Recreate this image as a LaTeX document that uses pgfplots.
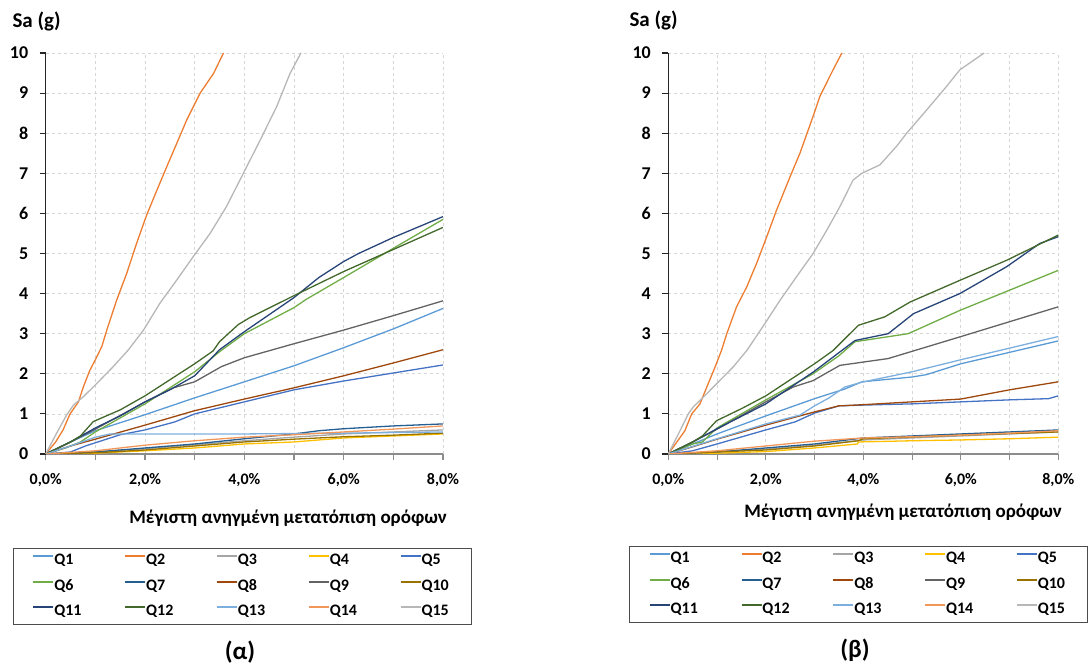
\documentclass[border=0pt]{standalone}
\usepackage{fontspec}
\setmainfont{Carlito}
\usepackage{pgfplots}
\pgfplotsset{compat=1.18}
\definecolor{qa}{HTML}{5B9BD5}
\definecolor{qb}{HTML}{ED7D31}
\definecolor{qc}{HTML}{A5A5A5}
\definecolor{qd}{HTML}{FFC000}
\definecolor{qe}{HTML}{4472C4}
\definecolor{qf}{HTML}{70AD47}
\definecolor{qg}{HTML}{255E91}
\definecolor{qh}{HTML}{9E480E}
\definecolor{qi}{HTML}{636363}
\definecolor{qj}{HTML}{997300}
\definecolor{qk}{HTML}{264478}
\definecolor{ql}{HTML}{43682B}
\definecolor{qm}{HTML}{7CAFDD}
\definecolor{qn}{HTML}{F1975A}
\definecolor{qo}{HTML}{B7B7B7}
\pgfplotsset{
  mystyle/.style={
    anchor=south west, scale only axis, height=401pt,
    xmin=0, xmax=8, ymin=0, ymax=10,
    xtick={0,...,8},
    xticklabels={{0,0\%},{},{2,0\%},{},{4,0\%},{},{6,0\%},{},{8,0\%}},
    ytick={0,...,10},
    /pgf/number format/assume math mode=true,
    grid=major, grid style={dashed, color=black!16, line width=0.7pt},
    axis x line*=bottom, axis y line*=left,
    x axis line style={black!45, line width=1.1pt},
    y axis line style={black!85, line width=1.1pt},
    x tick style={black!45, line width=1.1pt},
    y tick style={black!85, line width=1.1pt},
    tick align=outside, major tick length=6pt,
    xticklabel style={font=\bfseries\fontsize{16}{16}\selectfont, anchor=center, yshift=-20pt},
    yticklabel style={font=\bfseries\fontsize{18}{18}\selectfont, anchor=east, xshift=-8pt},
    xlabel={Μέγιστη ανηγμένη μετατόπιση ορόφων},
    xlabel style={font=\bfseries\fontsize{19}{19}\selectfont, anchor=center},
    every axis plot/.append style={line width=1.3pt, mark=none},
    legend columns=5,
    legend cell align=left,
    legend image code/.code={\draw[#1, line width=1.8pt] (0pt,4.5pt) -- (20pt,4.5pt);},
    legend style={anchor=north west, draw=black!70, line width=0.8pt,
      font=\bfseries\fontsize{16}{16}\selectfont,
      inner xsep=19.5pt, inner ysep=5.5pt,
      nodes={inner sep=0pt, text height=11pt, text depth=3pt, text width=30pt},
      row sep=11.5pt,
      /tikz/every odd column/.append style={column sep=0pt},
      /tikz/every even column/.append style={column sep=40pt}},
  }
}
\begin{document}
\begin{tikzpicture}
\path[use as bounding box] (0pt,0pt) rectangle (1088pt,666pt);
% ---------------- (alpha)
\begin{axis}[mystyle, at={(45.7pt,212pt)}, width=397.3pt,
  xlabel style={at={(axis description cs:0.61,-0.16)}},
  legend style={at={(-0.0831,-0.2344)}}]
\addplot[qa] coordinates {(0,0)(0.5,0.3)(1,0.58)(2,0.98)(3,1.4)(4,1.8)(5,2.2)(6,2.65)(7,3.12)(8,3.63)};
\addplot[qb] coordinates {(0,0)(0.2,0.3)(0.35,0.6)(0.49,1.0)(0.66,1.3)(0.76,1.68)(0.89,2.09)(1.0,2.35)(1.13,2.68)(1.23,3.09)(1.43,3.84)(1.63,4.5)(1.83,5.25)(2.03,5.95)(2.23,6.55)(2.44,7.17)(2.64,7.75)(2.84,8.33)(3.11,9.0)(3.38,9.49)(3.58,10.0)};
\addplot[qc] coordinates {(0,0)(1,0.05)(2,0.13)(3,0.23)(4,0.33)(5,0.42)(6,0.5)(7,0.55)(8,0.6)};
\addplot[qd] coordinates {(0,0)(1,0.02)(2,0.08)(3,0.15)(4,0.25)(5,0.3)(6,0.4)(7,0.45)(8,0.5)};
\addplot[qe] coordinates {(0,0)(0.5,0.05)(0.8,0.2)(1,0.28)(1.5,0.48)(2,0.6)(2.6,0.8)(3,1.0)(4,1.3)(5,1.6)(6,1.82)(7,2.02)(8,2.22)};
\addplot[qf] coordinates {(0,0)(0.4,0.15)(0.7,0.3)(1,0.55)(2,1.25)(3,2.05)(3.5,2.55)(4,3.0)(5,3.65)(5.25,3.86)(6,4.4)(7,5.13)(8,5.85)};
\addplot[qg] coordinates {(0,0)(1,0.05)(2,0.15)(3,0.25)(4,0.38)(5,0.5)(5.5,0.58)(6,0.63)(7,0.7)(8,0.75)};
\addplot[qh] coordinates {(0,0)(0.5,0.2)(1,0.37)(2,0.72)(3,1.08)(4,1.37)(5,1.65)(6,1.95)(7,2.27)(8,2.6)};
\addplot[qi] coordinates {(0,0)(0.5,0.3)(1,0.62)(2,1.3)(2.57,1.65)(3,1.8)(3.54,2.18)(4,2.4)(5,2.75)(6,3.09)(7,3.45)(8,3.82)};
\addplot[qj] coordinates {(0,0)(1,0.03)(2,0.1)(3,0.2)(4,0.3)(5,0.37)(6,0.43)(7,0.47)(8,0.52)};
\addplot[qk] coordinates {(0,0)(0.5,0.3)(1,0.65)(1.5,0.95)(2,1.3)(2.5,1.6)(3,1.95)(3.5,2.6)(4,3.05)(5,3.9)(5.5,4.4)(6,4.8)(6.3,5.0)(7,5.4)(8,5.92)};
\addplot[ql] coordinates {(0,0)(0.5,0.3)(0.7,0.45)(0.96,0.81)(1.5,1.1)(2,1.45)(2.5,1.85)(3,2.25)(3.37,2.57)(3.5,2.8)(3.88,3.23)(4.11,3.4)(4.58,3.69)(5,3.95)(6,4.55)(7,5.1)(8,5.65)};
\addplot[qm] coordinates {(0,0)(0.5,0.2)(1,0.42)(1.3,0.5)(2.5,0.5)(4,0.5)(6,0.52)(8,0.55)};
\addplot[qn] coordinates {(0,0)(1,0.08)(2,0.22)(3,0.33)(4,0.42)(5,0.48)(6,0.55)(7,0.62)(8,0.7)};
\addplot[qo] coordinates {(0,0)(0.22,0.52)(0.42,0.97)(0.56,1.22)(0.76,1.43)(1.03,1.76)(1.36,2.18)(1.66,2.59)(1.97,3.09)(2.30,3.76)(2.64,4.34)(2.97,4.92)(3.31,5.5)(3.64,6.17)(3.98,7.0)(4.32,7.83)(4.65,8.66)(4.92,9.49)(5.14,10)};
\legend{Q1,Q2,Q3,Q4,Q5,Q6,Q7,Q8,Q9,Q10,Q11,Q12,Q13,Q14,Q15}
\end{axis}
% ---------------- (beta)
\begin{axis}[mystyle, at={(668.3pt,212pt)}, width=390pt,
  xlabel style={at={(axis description cs:0.602,-0.145)}},
  legend style={at={(-0.1008,-0.2294)}}]
\addplot[qa] coordinates {(0,0)(1,0.5)(2,0.95)(3,1.38)(3.62,1.62)(3.97,1.8)(5,1.92)(5.3,1.98)(6,2.25)(8,2.82)};
\addplot[qb] coordinates {(0,0)(0.34,0.58)(0.48,1.0)(0.65,1.25)(0.79,1.67)(0.96,2.17)(1.09,2.58)(1.2,3.0)(1.4,3.67)(1.61,4.17)(1.81,4.75)(2.02,5.42)(2.22,6.08)(2.5,6.92)(2.7,7.5)(2.97,8.42)(3.11,8.92)(3.38,9.58)(3.56,10)};
\addplot[qc] coordinates {(0,0)(2,0.12)(3,0.22)(4,0.35)(6,0.45)(8,0.55)};
\addplot[qd] coordinates {(0,0)(1,0.02)(2,0.06)(3,0.15)(3.88,0.25)(3.9,0.3)(5,0.33)(6,0.35)(7,0.38)(8,0.42)};
\addplot[qe] coordinates {(0,0)(0.5,0.08)(1,0.25)(2,0.6)(2.6,0.8)(3,1.02)(3.5,1.2)(4,1.22)(5,1.25)(6,1.3)(7,1.35)(7.8,1.38)(8,1.45)};
\addplot[qf] coordinates {(0,0)(0.5,0.25)(0.7,0.3)(1,0.65)(2,1.35)(2.97,2.0)(3.5,2.45)(3.83,2.8)(4.92,3.0)(5.98,3.58)(8,4.58)};
\addplot[qg] coordinates {(0,0)(1,0.05)(2,0.15)(3,0.25)(4,0.4)(5,0.45)(6,0.5)(7,0.55)(8,0.6)};
\addplot[qh] coordinates {(0,0)(0.5,0.18)(1,0.37)(2,0.72)(2.7,0.95)(3,1.05)(3.5,1.2)(4,1.23)(5,1.3)(6,1.37)(7,1.6)(8,1.8)};
\addplot[qi] coordinates {(0,0)(0.5,0.3)(1,0.62)(2,1.3)(2.56,1.67)(2.97,1.83)(3.52,2.21)(4.51,2.38)(5.98,2.92)(8,3.67)};
\addplot[qj] coordinates {(0,0)(2,0.1)(3,0.2)(3.9,0.33)(4,0.38)(6,0.47)(8,0.55)};
\addplot[qk] coordinates {(0,0)(0.5,0.3)(1,0.63)(2,1.25)(2.97,2.04)(3.83,2.83)(4.51,3.0)(5.03,3.5)(5.98,4.0)(6.94,4.67)(7.62,5.25)(8,5.42)};
\addplot[ql] coordinates {(0,0)(0.5,0.3)(0.7,0.45)(0.99,0.83)(1.5,1.13)(2,1.45)(2.5,1.85)(3,2.25)(3.38,2.58)(3.9,3.21)(4.44,3.42)(4.96,3.79)(5.98,4.33)(6.94,4.83)(8,5.46)};
\addplot[qm] coordinates {(0,0)(1,0.38)(2,0.75)(2.7,0.97)(3,1.2)(3.3,1.4)(3.62,1.67)(3.97,1.79)(5,2.05)(6,2.35)(8,2.93)};
\addplot[qn] coordinates {(0,0)(1,0.08)(2,0.2)(3,0.32)(4,0.4)(5,0.43)(6,0.47)(7,0.52)(8,0.58)};
\addplot[qo] coordinates {(0,0)(0.24,0.58)(0.41,1.0)(0.51,1.17)(0.72,1.42)(0.99,1.75)(1.33,2.17)(1.61,2.58)(1.98,3.25)(2.29,3.83)(2.63,4.42)(2.97,5.0)(3.25,5.58)(3.52,6.17)(3.79,6.83)(3.97,7.0)(4.34,7.21)(4.68,7.67)(4.89,8.0)(5.3,8.58)(5.71,9.17)(5.98,9.58)(6.48,10)};
\legend{Q1,Q2,Q3,Q4,Q5,Q6,Q7,Q8,Q9,Q10,Q11,Q12,Q13,Q14,Q15}
\end{axis}
\node[anchor=west, font=\bfseries\fontsize{21}{21}\selectfont] at (9pt,645pt) {Sa (g)};
\node[anchor=west, font=\bfseries\fontsize{21}{21}\selectfont] at (626pt,646pt) {Sa (g)};
\node[font=\bfseries\fontsize{25}{25}\selectfont] at (240pt,14pt) {(α)};
\node[font=\bfseries\fontsize{25}{25}\selectfont] at (855pt,16pt) {(β)};
\end{tikzpicture}
\end{document}
